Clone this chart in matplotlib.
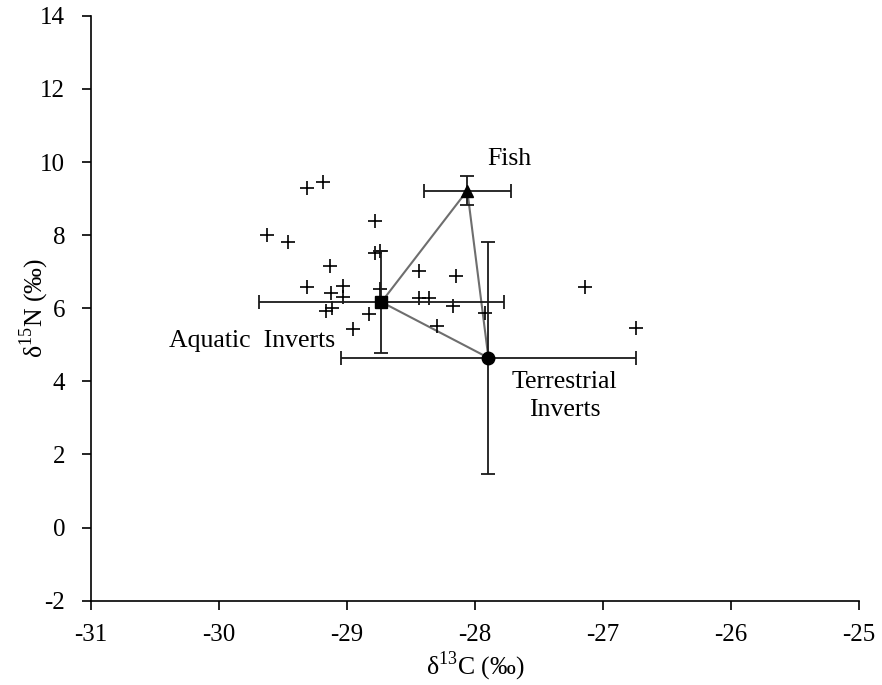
import matplotlib.pyplot as plt

plt.rcParams['font.family'] = ['Liberation Serif', 'DejaVu Serif']
plt.rcParams['mathtext.fontset'] = 'custom'
plt.rcParams['mathtext.rm'] = 'Liberation Serif'
plt.rcParams['axes.unicode_minus'] = False

# individual consumers (+)
ind_x = [-29.31, -29.19, -29.625, -29.46, -28.78, -28.78, -28.74, -29.135, -29.31,
         -29.125, -29.03, -29.03, -29.16, -29.115, -28.83, -28.95, -28.74, -28.44,
         -28.15, -28.44, -28.36, -28.17, -28.30, -27.92, -27.14, -26.74]
ind_y = [9.30, 9.46, 8.00, 7.82, 8.39, 7.52, 7.57, 7.16, 6.58,
         6.42, 6.60, 6.31, 5.93, 6.02, 5.84, 5.43, 6.52, 7.02,
         6.89, 6.29, 6.29, 6.07, 5.52, 5.88, 6.57, 5.47]

# sources: mean and sd
src_names = ['Aquatic  Inverts', 'Fish', 'Terrestrial\nInverts']
src_x = [-28.73, -28.06, -27.895]
src_y = [6.17, 9.22, 4.645]
src_xerr = [0.96, 0.34, 1.155]
src_yerr = [1.40, 0.40, 3.18]
src_mark = ['s', '^', 'o']

fig = plt.figure(figsize=(8.82, 6.85), dpi=100)
ax = fig.add_axes([0.103, 0.123, 0.871, 0.854])

# mixing polygon
px = [src_x[0], src_x[1], src_x[2], src_x[0]]
py = [src_y[0], src_y[1], src_y[2], src_y[0]]
ax.plot(px, py, color='#6e6e6e', lw=1.5, zorder=2)

ax.plot(ind_x, ind_y, '+', color='black', ms=10, mew=1.2, zorder=3)

for i in range(3):
    ax.errorbar(src_x[i], src_y[i], xerr=src_xerr[i], yerr=src_yerr[i],
                fmt=src_mark[i], color='black', ms=9, ecolor='#1a1a1a',
                elinewidth=1.3, capsize=5, capthick=1.3, zorder=4)

ax.text(-27.73, 10.08, src_names[1], fontsize=18.5, ha='center', va='center')
ax.text(-29.09, 5.1, src_names[0], fontsize=18.5, ha='right', va='center')
ax.text(-27.3, 3.6, src_names[2], fontsize=18.5, ha='center', va='center',
        linespacing=1.3)

ax.set_xlim(-31, -25)
ax.set_ylim(-2, 14)
ax.set_xticks(range(-31, -24))
ax.set_yticks(range(-2, 15, 2))
ax.spines['top'].set_visible(False)
ax.spines['right'].set_visible(False)
ax.spines['left'].set_linewidth(1.2)
ax.spines['bottom'].set_linewidth(1.2)
ax.tick_params(direction='out', length=6.5, width=1.2, labelsize=18)
ax.tick_params(axis='x', pad=10.5)
ax.tick_params(axis='y', pad=12)
ax.set_xlabel('δ$^{13}$C (‰)', fontsize=18.5, labelpad=2)
ax.set_ylabel('δ$^{15}$N (‰)', fontsize=18.5, labelpad=-8)

fig.savefig('out.png', dpi=100)
